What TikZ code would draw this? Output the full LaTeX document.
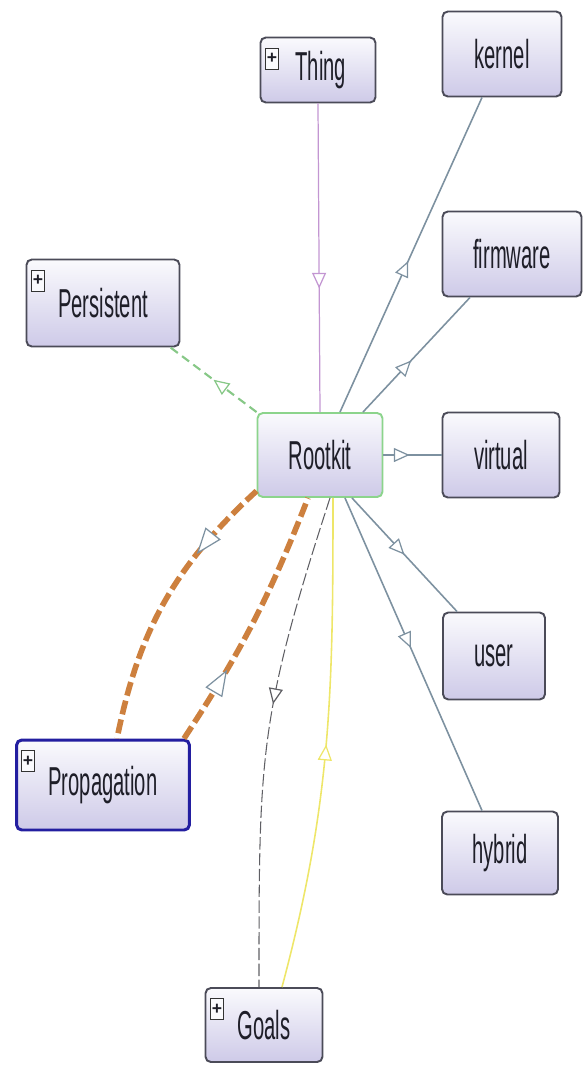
\documentclass[tikz,border=0pt]{standalone}
\usepackage{fontspec}
\newfontfamily\boxfont[FakeStretch=0.5]{Liberation Sans}
\newfontfamily\plusfont{Liberation Sans}
\usetikzlibrary{arrows.meta,decorations.markings,positioning}

\definecolor{boxedge}{RGB}{75,75,88}
\definecolor{boxtop}{RGB}{250,250,253}
\definecolor{boxbottom}{RGB}{206,202,232}
\definecolor{boxtext}{RGB}{30,30,40}
\definecolor{rootedge}{RGB}{140,212,140}
\definecolor{propedge}{RGB}{35,30,160}
\definecolor{subline}{RGB}{125,145,160}
\definecolor{thingline}{RGB}{195,150,210}
\definecolor{persline}{RGB}{135,200,135}
\definecolor{propline}{RGB}{205,128,62}
\definecolor{goalline}{RGB}{95,95,100}
\definecolor{yellowline}{RGB}{238,230,105}

\begin{document}
\begin{tikzpicture}[
       x=0.02cm, y=-0.02cm,
       classbox/.style={rectangle, rounded corners=3pt, draw=boxedge, line width=1.1pt,
               top color=boxtop, bottom color=boxbottom, text=boxtext,
               font=\boxfont\fontsize{23}{26}\selectfont, inner sep=0pt},
       plusmark/.style={rectangle, sharp corners, draw=black!80, fill=boxtop, line width=0.6pt, inner sep=0pt,
               minimum width=7pt, minimum height=12pt,
               font=\plusfont\bfseries\fontsize{10}{10}\selectfont},
       expandable/.style={path picture={\node[plusmark] at ([xshift=6.5pt,yshift=-12pt]path picture bounding box.north west) {+};}},
       subtip/.style={postaction={decorate}, decoration={markings,
               mark=at position #1 with {\arrow{Triangle[fill=white, length=9pt, width=8pt, line width=0.7pt]}}}},
       bigtip/.style={postaction={decorate}, decoration={markings,
               mark=at position #1 with {\arrow{Triangle[color=subline, fill=white, length=15pt, width=11pt, line width=0.7pt]}}}},
       subclass/.style={draw=subline, line width=0.9pt},
       ]
       \useasboundingbox (0,0) rectangle (584,1066);
       % classes
       \node (rootkit) [classbox, draw=rootedge, minimum width=2.5cm, minimum height=1.68cm] at (320,455) {Rootkit};
       \node (thing) [classbox, expandable, minimum width=2.3cm, minimum height=1.3cm] at (318,70) {\ Thing};
       \node (persistent) [classbox, expandable, minimum width=3.06cm, minimum height=1.74cm] at (103,303) {Persistent};
       \node (propagation) [classbox, expandable, draw=propedge, line width=1.7pt, minimum width=3.46cm, minimum height=1.8cm] at (103,785) {Propagation};
       \node (goals) [classbox, expandable, minimum width=2.34cm, minimum height=1.48cm] at (264,1025) {Goals};
       \node (kernel) [classbox, minimum width=2.38cm, minimum height=1.7cm] at (502,54) {kernel};
       \node (firmware) [classbox, minimum width=2.78cm, minimum height=1.7cm] at (512,254) {firmware};
       \node (virtual) [classbox, minimum width=2.34cm, minimum height=1.7cm] at (501,455) {virtual};
       \node (user) [classbox, minimum width=2.04cm, minimum height=1.74cm] at (494,656) {user};
       \node (hybrid) [classbox, minimum width=2.32cm, minimum height=1.66cm] at (500,853) {hybrid};

       % links
       \path [draw=thingline, line width=0.7pt, subtip=0.6] (thing.south) -- (rootkit.north);
       \path [subclass, subtip=0.48] ([xshift=0.4cm]rootkit.north) -- ([xshift=-0.4cm]kernel.south);
       \path [subclass, subtip=0.45] ([xshift=0.86cm]rootkit.north) -- ([xshift=-0.84cm]firmware.south);
       \path [subclass, subtip=0.45] (rootkit.east) -- (virtual.west);
       \path [subclass, subtip=0.5] ([xshift=0.64cm]rootkit.south) -- ([xshift=0.3cm]user.north west);
       \path [subclass, subtip=0.48] ([xshift=0.5cm]rootkit.south) -- ([xshift=-0.36cm]hybrid.north);
       \path [draw=persline, line width=1.2pt, dash pattern=on 5pt off 3pt, subtip=0.5]
             (rootkit.north west) -- ([xshift=-0.2cm]persistent.south east);
       \path [draw=propline, line width=3.2pt, dash pattern=on 8pt off 3pt, bigtip=0.3]
             ([yshift=0.14cm]rootkit.south west) to[bend right=18] ([xshift=0.28cm]propagation.north);
       \path [draw=propline, line width=3.2pt, dash pattern=on 8pt off 3pt, bigtip=0.3]
             ([xshift=-0.14cm]propagation.north east) to[bend right=6] ([xshift=-0.24cm]rootkit.south);
       \path [draw=goalline, line width=0.6pt, dash pattern=on 7pt off 2pt, subtip=0.43]
             ([xshift=0.2cm]rootkit.south) to[out=-108, in=90, looseness=1.2] ([xshift=-0.1cm]goals.north);
       \path [draw=yellowline, line width=0.9pt, subtip=0.5]
             ([xshift=0.36cm]goals.north) to[out=75, in=-90] ([xshift=0.26cm]rootkit.south);
\end{tikzpicture}
\end{document}
